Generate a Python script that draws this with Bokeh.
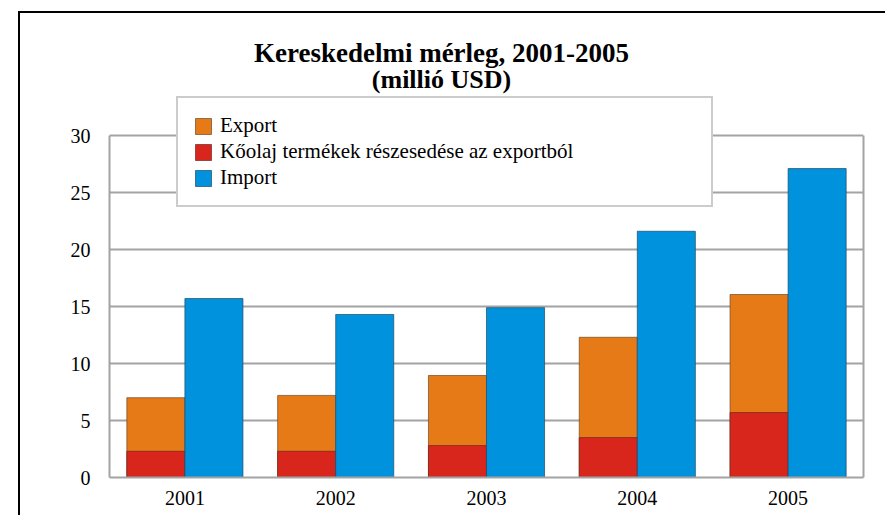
from bokeh.plotting import figure
from bokeh.models import (FactorRange, Range1d, ColumnDataSource, Legend, LegendItem,
                          Label, FixedTicker, LinearAxis)
from bokeh.transform import dodge
from bokeh.embed import file_html
from bokeh.resources import INLINE

# ---- data ----
years = ["2001", "2002", "2003", "2004", "2005"]
export = [7.0, 7.2, 8.95, 12.3, 16.05]
oil = [2.3, 2.3, 2.8, 3.5, 5.7]
imports = [15.7, 14.3, 14.9, 21.6, 27.1]
y_ticks = [0, 5, 10, 15, 20, 25, 30]
title_line1 = "Kereskedelmi mérleg, 2001-2005"
title_line2 = "(millió USD)"
legend_labels = ["Export", "Kőolaj termékek részesedése az exportból", "Import"]

src = ColumnDataSource(dict(year=years, export=export, oil=oil, imports=imports))

FONT = "Liberation Serif"
GRID = "#a3a3a3"
Y_MAX = 30
# frame extends above the value axis to leave room for title and legend
Y_TOP = Y_MAX * 464 / 342

p = figure(x_range=FactorRange(*years, range_padding=0), y_range=Range1d(0, Y_TOP),
           width=867, height=504, output_backend="svg", toolbar_location=None,
           min_border_left=89, min_border_right=24, min_border_top=0,
           min_border_bottom=40)
p.styles = {"margin-left": "18px", "margin-top": "11px",
            "border-left": "2px solid black", "border-top": "2px solid black"}

bw = 0.385
r_exp = p.vbar(x=dodge("year", -bw / 2, range=p.x_range), top="export", width=bw,
               source=src, fill_color="#e67a17", line_color="#6b4a2a", line_width=1,
               line_alpha=0.7)
r_oil = p.vbar(x=dodge("year", -bw / 2, range=p.x_range), top="oil", width=bw,
               source=src, fill_color="#d9261d", line_color="#6b2a22", line_width=1,
               line_alpha=0.7)
r_imp = p.vbar(x=dodge("year", bw / 2, range=p.x_range), top="imports", width=bw,
               source=src, fill_color="#0092dc", line_color="#1f4a66", line_width=1,
               line_alpha=0.7)

# axes / grid
p.xgrid.grid_line_color = None
p.yaxis.ticker = FixedTicker(ticks=y_ticks)
p.ygrid.ticker = FixedTicker(ticks=y_ticks)
p.ygrid.grid_line_color = GRID
p.ygrid.grid_line_width = 2
p.yaxis.bounds = (0, Y_MAX)
for ax in (p.xaxis[0], p.yaxis[0]):
    ax.axis_line_color = GRID
    ax.axis_line_width = 2
    ax.major_tick_line_color = None
    ax.minor_tick_line_color = None
    ax.major_label_text_font = FONT
    ax.major_label_text_font_size = "20px"
    ax.major_label_text_color = "black"
p.yaxis.major_label_standoff = 13
p.xaxis.major_label_standoff = 7
p.outline_line_color = None

right_axis = LinearAxis(bounds=(0, Y_MAX), ticker=FixedTicker(ticks=[]),
                        axis_line_color=GRID, axis_line_width=2,
                        major_tick_line_color=None, minor_tick_line_color=None,
                        major_label_text_font_size="0px", major_label_standoff=0)
p.add_layout(right_axis, "right")

# title as two centered lines
p.add_layout(Label(x=332, y=425, x_units="screen", y_units="screen", text=title_line1,
                   text_align="center", text_baseline="alphabetic", text_font=FONT,
                   text_font_size="27px", text_font_style="bold", text_color="black"))
p.add_layout(Label(x=332, y=398, x_units="screen", y_units="screen", text=title_line2,
                   text_align="center", text_baseline="alphabetic", text_font=FONT,
                   text_font_size="26px", text_font_style="bold", text_color="black"))

legend = Legend(items=[LegendItem(label=legend_labels[0], renderers=[r_exp]),
                       LegendItem(label=legend_labels[1], renderers=[r_oil]),
                       LegendItem(label=legend_labels[2], renderers=[r_imp])],
                location=(67, 270), padding=15, spacing=1, glyph_width=20,
                glyph_height=20, label_height=20, label_standoff=7, label_width=476,
                label_text_font=FONT, label_text_font_size="21px",
                label_text_color="black",
                border_line_color="#9a9a9a", border_line_width=2,
                background_fill_alpha=1)
p.add_layout(legend, "center")

open("out.html", "w").write(file_html(p, INLINE))
